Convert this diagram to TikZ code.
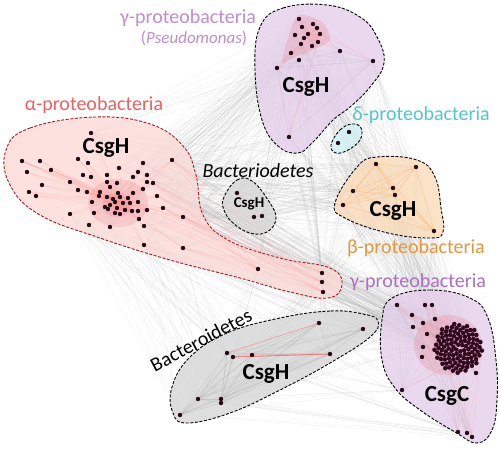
\documentclass[tikz,border=0pt]{standalone}
\usepackage{fontspec}
\setmainfont{Carlito}
\usetikzlibrary{calc}
\definecolor{gfill}{RGB}{228,206,234}
\definecolor{afill}{RGB}{251,218,214}
\definecolor{aline}{RGB}{170,25,35}
\definecolor{dfill}{RGB}{208,241,246}
\definecolor{bfill}{RGB}{251,220,186}
\definecolor{sfill}{RGB}{214,214,214}
\definecolor{dotc}{RGB}{35,12,22}
\definecolor{densec}{RGB}{50,10,32}
\definecolor{glab}{RGB}{190,140,210}
\definecolor{alab}{RGB}{240,95,95}
\definecolor{dlab}{RGB}{80,200,200}
\definecolor{blab}{RGB}{232,150,60}
\definecolor{glabb}{RGB}{175,110,200}
\definecolor{halo}{RGB}{235,150,165}
\tikzset{
 blob/.style={draw=black, line width=0.9pt, dash pattern=on 3pt off 1.6pt, fill opacity=0.8},
 web/.style={draw=black!35, line width=0.3pt, draw opacity=0.2},
 pinkedge/.style={draw=red!45, line width=0.3pt, draw opacity=0.25},
 lab/.style={font=\fontsize{20}{24}\selectfont, inner sep=0pt},
 big/.style={font=\fontsize{23}{27}\selectfont\bfseries, inner sep=0pt},
 dotfill/.style={fill=dotc},
}
\begin{document}
\begin{tikzpicture}[x=1pt,y=-1pt]
\useasboundingbox (0,0) rectangle (500,453);
% ---------- coordinates ----------
\foreach \x/\y [count=\i] in {91/133,22/161,40/161,27/172,51/170,42/185,29/192,36/196,78/159,88/163,119/168,143/163,172/160,83/175,91/177,107/175,138/172,147/175,70/182,107/182,117/183,133/177,147/182,153/183,78/190,87/192,100/192,110/187,118/193,143/189,157/196,92/202,99/196,107/197,113/199,120/197,128/198,133/193,138/202,110/205,115/202,123/203,130/203,105/207,108/209,117/208,125/210,132/211,138/211,147/210,163/208,70/214,94/213,115/213,120/214,139/219,183/217,89/225,110/227,144/226,144/245,183/248,258/269,322/273,322/282,323/292}
 \coordinate (a\i) at (\x,\y);
\foreach \x/\y [count=\i] in {299/19,302/27,313/24,317/28,295/35,304/38,308/34,320/34,301/44,312/46,318/42,340/51,291/53,299/60,277/68,373/61,289/137}
 \coordinate (g\i) at (\x,\y);
\foreach \x/\y [count=\i] in {376/164,416/167,353/191,393/188,395/195,343/205,434/231}
 \coordinate (b\i) at (\x,\y);
\coordinate (d1) at (349,132);
\coordinate (d2) at (338,143);
\coordinate (s1) at (237,193);
\coordinate (s2) at (254,217);
\coordinate (s3) at (262,216);
\foreach \x/\y [count=\i] in {319/323,363/329,227/353,233/357,252/355,330/354,198/399,221/399,221/403,180/415}
 \coordinate (t\i) at (\x,\y);
\foreach \x/\y [count=\i] in {397/305,425/305,432/305,412/315,413/327,423/323,435/319,427/334,423/347,422/357,402/390,476/373,458/432,467/433,472/437}
 \coordinate (c\i) at (\x,\y);
\foreach \i in {1,...,110}{
 \pgfmathsetmacro\myr{sqrt(\i/110)}
 \pgfmathsetmacro\myth{\i*137.508}
 \coordinate (k\i) at ($(458,348)+(\myth:{24*\myr} and {25*\myr})$);
}
% ---------- background web ----------
\foreach \i in {1,11,12,13,17,18,23,24,31,51,57,60,61,62,63,64,65,66}{
 \foreach \j in {1,5,9,12,13,14,15,16,17} \draw[web] (a\i) -- (g\j);
 \foreach \j in {5,15,25,40,55,70,85,100,110} \draw[web] (a\i) -- (k\j);
 \foreach \j in {1,...,7} \draw[web] (a\i) -- (b\j);
}
\foreach \i in {1,5,9,12,13,14,15,16,17}{
 \foreach \j in {5,15,25,40,55,70,85,100,110} \draw[web] (g\i) -- (k\j);
 \foreach \j in {1,...,7} \draw[web] (g\i) -- (b\j);
}
\foreach \i in {1,...,10}{
 \foreach \j in {52,58,59,60,61,62,63,64,65,66} \draw[web] (t\i) -- (a\j);
 \foreach \j in {1,3,5,9,11,13,15} \draw[web] (t\i) -- (c\j);
}
\foreach \i in {1,...,7}{
 \foreach \j in {1,...,15} \draw[web] (b\i) -- (c\j);
}
\foreach \i in {1,2,3}{
 \foreach \j in {1,5,9,12,13,15,16,17} \draw[web] (s\i) -- (g\j);
 \foreach \j in {1,...,7} \draw[web] (s\i) -- (b\j);
 \foreach \j in {5,25,55,85,110} \draw[web] (s\i) -- (k\j);
 \foreach \j in {13,24,31,57,62} \draw[web] (s\i) -- (a\j);
}
\foreach \i in {1,2}{
 \foreach \j in {1,5,12,16,17} \draw[web] (d\i) -- (g\j);
 \foreach \j in {1,...,7} \draw[web] (d\i) -- (b\j);
}
% ---------- blobs ----------
\filldraw[blob, fill=afill, draw=aline] plot[smooth cycle, tension=0.7] coordinates {(6,150) (30,128) (95,117) (150,124) (183,146) (196,175) (203,215) (228,240) (280,258) (330,268) (342,285) (328,298) (290,292) (240,278) (170,260) (100,238) (40,215) (10,185)};
\filldraw[blob, fill=gfill] plot[smooth cycle, tension=0.7] coordinates {(260,27) (283,8) (327,5) (360,17) (377,37) (384,63) (370,87) (350,107) (333,120) (313,142) (298,153) (278,146) (262,120) (255,70)};
\filldraw[blob, fill=dfill] plot[smooth cycle, tension=0.7] coordinates {(331,145) (340,130) (352,124) (361,128) (360,140) (348,150) (336,153)};
\filldraw[blob, fill=bfill] plot[smooth cycle, tension=0.7] coordinates {(357,167) (377,157) (417,160) (435,177) (441,208) (443,232) (430,238) (388,233) (345,218) (335,203)};
\filldraw[blob, fill=sfill] plot[smooth cycle, tension=0.7] coordinates {(224,197) (237,180) (252,181) (268,200) (276,218) (267,232) (250,233) (233,223) (224,210)};
\filldraw[blob, fill=sfill] plot[smooth cycle, tension=0.7] coordinates {(363,314) (330,311) (280,318) (227,333) (190,357) (172,387) (173,413) (187,423) (230,413) (280,390) (330,363) (370,337) (378,321)};
\filldraw[blob, fill=gfill] plot[smooth cycle, tension=0.7] coordinates {(392,298) (430,290) (470,298) (488,318) (496,360) (497,400) (492,430) (477,443) (455,432) (420,410) (395,388) (382,360) (382,320)};
% ---------- halos ----------
\fill[halo, opacity=0.3] (118,203) ellipse (30 and 24);
\fill[halo, opacity=0.35] (117,205) ellipse (15 and 12);
\fill[halo, opacity=0.35] plot[smooth cycle] coordinates {(290,32) (299,15) (322,22) (330,40) (312,50) (292,58) (282,62)};
\fill[halo, opacity=0.35] (448,345) ellipse (34 and 30);
% ---------- intra-cluster edges ----------
\foreach \i in {1,...,62}{
 \foreach \j in {35,42,47} \draw[pinkedge] (a\i) -- (a\j);
}
\foreach \i in {2,5,13,24,31,51,57,62} \foreach \j in {63,64,65,66} \draw[pinkedge] (a\i) -- (a\j);
\foreach \i in {1,...,17} \foreach \j in {4,8,11} \draw[pinkedge] (g\i) -- (g\j);
\foreach \i in {12,15,16,17} \foreach \j in {13,14,15,16,17} \draw[web] (g\i) -- (g\j);
\foreach \i in {1,...,7} \foreach \j in {1,...,7} \draw[draw=orange!60, line width=0.3pt, draw opacity=0.35] (b\i) -- (b\j);
\foreach \i in {1,...,10} \foreach \j in {1,...,10} \draw[web] (t\i) -- (t\j);
\draw[pinkedge] (d1) -- (d2);
\draw[pinkedge] (s1) -- (s2) -- (s3) -- (s1);
\draw[draw=red!65, line width=0.9pt, draw opacity=0.7] (t4) -- (t6);
\draw[draw=red!50, line width=0.6pt, draw opacity=0.6] (t3) -- (t1);
\draw[draw=red!50, line width=0.5pt, draw opacity=0.5] (t5) -- (t6);
\foreach \i in {1,...,15} \foreach \j in {10,40,80,110} \draw[pinkedge] (c\i) -- (k\j);
\foreach \i in {11,12,13,14,15} \foreach \j in {1,2,3,4} \draw[web] (c\i) -- (c\j);
% ---------- dots ----------
\foreach \i in {1,...,66} \fill[dotfill] (a\i) circle (2.2);
\foreach \i in {1,...,17} \fill[dotfill] (g\i) circle (2.2);
\foreach \i in {1,...,7} \fill[dotfill] (b\i) circle (2.2);
\foreach \i in {1,...,10} \fill[dotfill] (t\i) circle (2.2);
\foreach \i in {1,...,15} \fill[dotfill] (c\i) circle (2.2);
\foreach \n in {d1,d2,s1,s2,s3} \fill[dotfill] (\n) circle (2.2);
\foreach \i in {1,...,110} \fill[densec] (k\i) circle (2.3);
% ---------- labels ----------
\node[lab, text=glab] (lgtop) at (188,18) {γ-proteobacteria};
\node[lab, text=glab, font=\fontsize{17}{20}\selectfont] (lpseudo) at (194,38) {(\textit{Pseudomonas})};
\node[lab, text=alab] (lalpha) at (94,105) {α-proteobacteria};
\node[lab, font=\fontsize{20}{24}\selectfont\itshape] (lbactA) at (258,171) {Bacteriodetes};
\node[lab, text=dlab] (ldelta) at (421,115) {δ-proteobacteria};
\node[lab, text=blab] (lbeta) at (416,248) {β-proteobacteria};
\node[lab, text=glabb] (lgbot) at (418,282) {γ-proteobacteria};
\node[lab, rotate=28] (lbactB) at (201,340) {Bacteroidetes};
\node[big] (hA) at (106,148) {CsgH};
\node[big] (hG) at (306,87) {CsgH};
\node[big, font=\fontsize{15}{18}\selectfont\bfseries] (hS) at (249,204) {CsgH};
\node[big] (hB) at (393,211) {CsgH};
\node[big] (hT) at (266,374) {CsgH};
\node[big] (hC) at (447,396) {CsgC};
\end{tikzpicture}
\end{document}
